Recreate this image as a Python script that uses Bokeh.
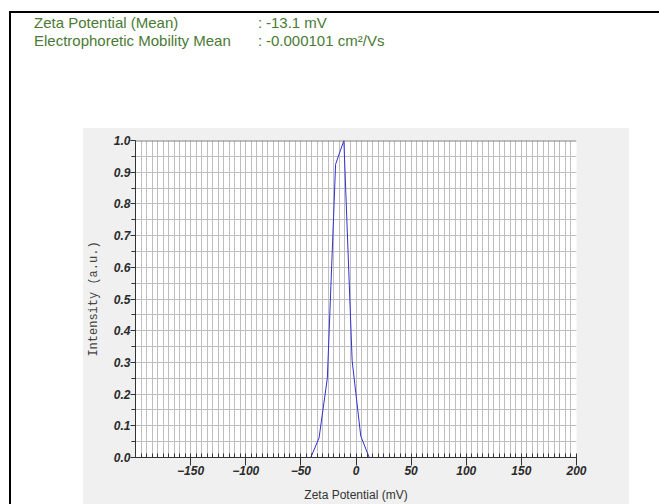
from bokeh.plotting import figure
from bokeh.models import FixedTicker, PrintfTickFormatter, Span, Div
from bokeh.layouts import column
from bokeh.embed import file_html
from bokeh.resources import INLINE

# ---- data ----
zeta_mv = [-41.0, -33.5, -26.0, -18.5, -11.0, -3.5, 4.3, 12.0]
intensity = [0.0, 0.062, 0.25, 0.925, 1.0, 0.305, 0.068, 0.0]
x_tick_values = [-150, -100, -50, 0, 50, 100, 150, 200]
y_tick_values = [0.0, 0.1, 0.2, 0.3, 0.4, 0.5, 0.6, 0.7, 0.8, 0.9, 1.0]
header_names = ["Zeta Potential (Mean)", "Electrophoretic Mobility Mean"]
header_values = ["-13.1 mV", "-0.000101 cm\u00b2/Vs"]

PAGE_W = 659
HEAD_H = 128
FIG_H = 376

# ---- header (page text above the chart panel) ----
rows = []
for i, (n, v) in enumerate(zip(header_names, header_values)):
    top = 15 + 18 * i
    rows.append(f'<span style="position:absolute;left:34px;top:{top}px;white-space:nowrap">{n}</span>')
    rows.append(f'<span style="position:absolute;left:258px;top:{top}px">:</span>')
    rows.append(f'<span style="position:absolute;left:266px;top:{top}px;white-space:nowrap">{v}</span>')
header_html = (
    f'<div style="position:relative;width:{PAGE_W}px;height:{HEAD_H}px;background:#ffffff;'
    "font-family:'Liberation Sans',Arial,sans-serif;color:#4a7a35;font-size:15px;line-height:15px\">"
    f'<div style="position:absolute;left:9px;top:11px;width:{PAGE_W - 9}px;height:2px;background:#000"></div>'
    f'<div style="position:absolute;left:9px;top:11px;width:2px;height:{HEAD_H - 11}px;background:#000"></div>'
    + "".join(rows) + "</div>"
)
header = Div(text=header_html, width=PAGE_W, height=HEAD_H, margin=0)

# ---- chart ----
p = figure(width=PAGE_W, height=FIG_H, x_range=(-200, 200), y_range=(0.0, 1.0),
           title=None, output_backend="svg", toolbar_location=None,
           min_border_left=135, min_border_right=83, min_border_top=12, min_border_bottom=46,
           margin=0)
p.border_fill_color = None
p.background_fill_color = "white"
p.outline_line_color = None
p.styles = {
    "background": ("linear-gradient(#000,#000) 9px 0px / 2px 100% no-repeat, "
                   "linear-gradient(#f0f0f0,#f0f0f0) 83px 0px / 546px 100% no-repeat, #ffffff")
}

x_minor = list(range(-200, 201, 5))
y_minor = [round(0.05 * k, 2) for k in range(21)]
p.xaxis.ticker = FixedTicker(ticks=x_tick_values, minor_ticks=x_minor)
p.yaxis.ticker = FixedTicker(ticks=y_tick_values, minor_ticks=y_minor)
p.yaxis.formatter = PrintfTickFormatter(format="%.1f")

grid_col = "#bebebe"
for g in (p.xgrid, p.ygrid):
    g.grid_line_color = grid_col
    g.minor_grid_line_color = grid_col
    g.grid_line_width = 1
    g.minor_grid_line_width = 1

for ax in (p.xaxis, p.yaxis):
    ax.axis_line_color = "#333333"
    ax.major_tick_line_color = "#333333"
    ax.minor_tick_line_color = "#333333"
    ax.major_label_text_font = "Liberation Sans"
    ax.major_label_text_font_style = "bold italic"
    ax.major_label_text_font_size = "12px"
    ax.major_label_text_color = "#2a2a2a"
    ax.major_label_standoff = 0

p.xaxis.major_tick_in = 3
p.xaxis.major_tick_out = 8
p.xaxis.minor_tick_in = 4
p.xaxis.minor_tick_out = 0
p.xaxis.axis_label = "Zeta Potential (mV)"
p.xaxis.axis_label_text_font = "Liberation Sans"
p.xaxis.axis_label_text_font_style = "normal"
p.xaxis.axis_label_text_font_size = "12px"
p.xaxis.axis_label_text_color = "#333333"
p.xaxis.axis_label_standoff = 10

p.yaxis.major_tick_in = 0
p.yaxis.major_tick_out = 5
p.yaxis.minor_tick_in = 0
p.yaxis.minor_tick_out = 4
p.yaxis.axis_label = "Intensity (a.u.)"
p.yaxis.axis_label_text_font = "Liberation Mono"
p.yaxis.axis_label_text_font_style = "normal"
p.yaxis.axis_label_text_font_size = "12px"
p.yaxis.axis_label_text_color = "#444444"
p.yaxis.axis_label_standoff = 10

p.add_layout(Span(location=1.0, dimension="width", line_color="#808080", line_width=2))

p.line(zeta_mv, intensity, line_color="#3030d0", line_width=1)

layout = column(header, p, spacing=0, margin=0)
open("out.html", "w").write(file_html(layout, INLINE))
